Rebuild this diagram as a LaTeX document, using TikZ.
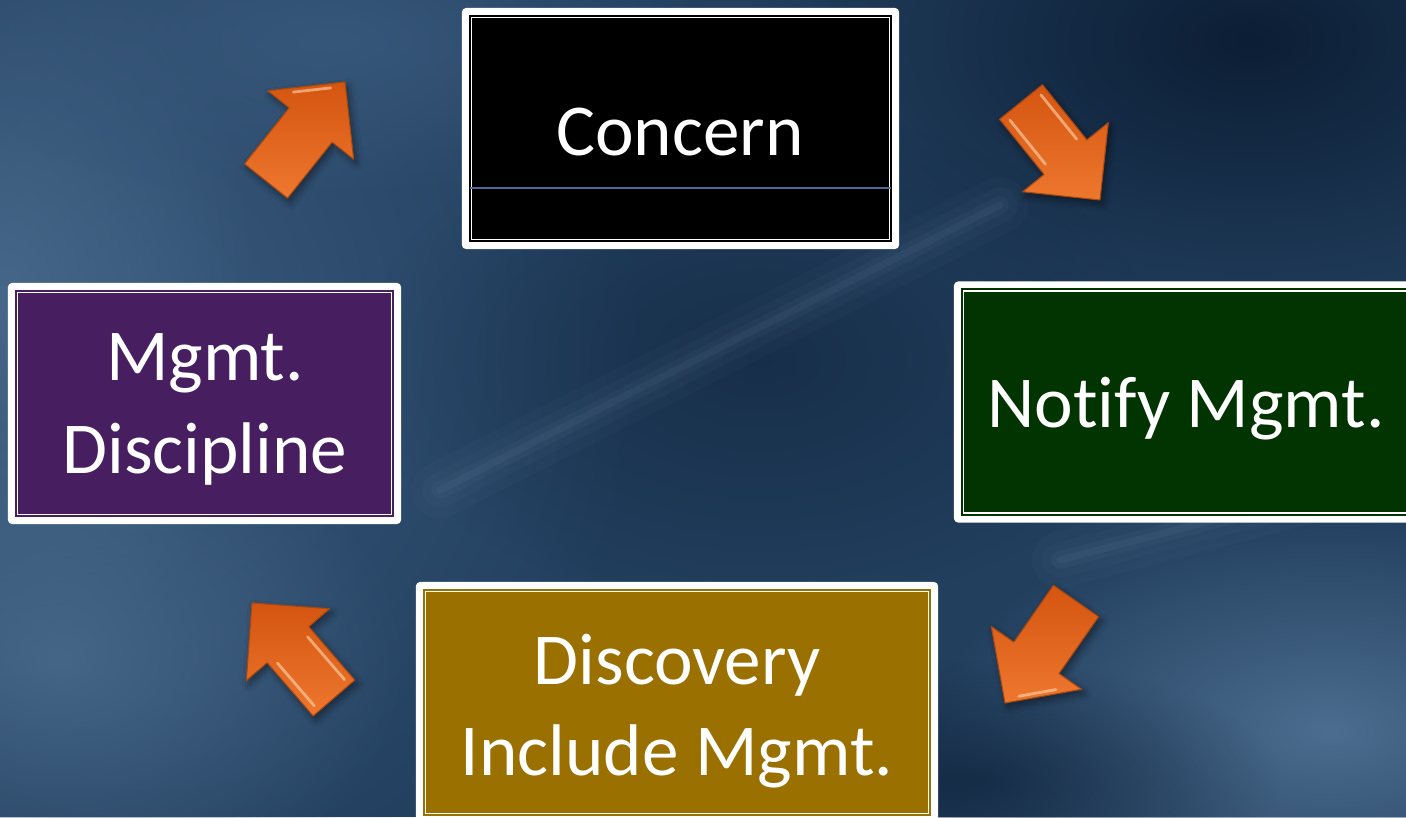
\documentclass[tikz,border=0pt]{standalone}
\usepackage{fontspec}
\setmainfont{Carlito}[Ligatures={NoCommon}]
\usetikzlibrary{calc,fadings,shadows.blur}

\tikzfading[name=softspot, inner color=transparent!0, outer color=transparent!100]

\definecolor{bgbase}{HTML}{223F5E}
\definecolor{bglight}{HTML}{4C6D8F}
\definecolor{bgmid}{HTML}{37577A}
\definecolor{bgdark}{HTML}{0C1E35}
\definecolor{streak}{HTML}{7F9BB8}
\definecolor{concernfill}{HTML}{000000}
\definecolor{notifyfill}{HTML}{013400}
\definecolor{disciplinefill}{HTML}{471F60}
\definecolor{discoveryfill}{HTML}{9A7100}
\definecolor{rule}{HTML}{4A6C9C}
\definecolor{orangedark}{HTML}{D45510}
\definecolor{orangelight}{HTML}{EE772E}
\definecolor{orangeedge}{HTML}{A8480E}
\definecolor{orangeglow}{HTML}{FFD8B0}

% block arrow from tail coordinate #2 to tip coordinate #3
\newcommand\blockarrow[3][]{%
  \coordinate (#2-h) at ($(#3)!0.55cm!(#2)$);
  \coordinate (#2-s1) at ($(#2)!0.275cm!90:(#3)$);
  \coordinate (#2-s2) at ($(#2)!0.275cm!-90:(#3)$);
  \coordinate (#2-n1) at ($(#2-h)!0.275cm!90:(#3)$);
  \coordinate (#2-n2) at ($(#2-h)!0.275cm!-90:(#3)$);
  \coordinate (#2-b1) at ($(#2-h)!0.55cm!90:(#3)$);
  \coordinate (#2-b2) at ($(#2-h)!0.55cm!-90:(#3)$);
  \path[arrowbody,#1] (#2-s1) -- (#2-n1) -- (#2-b1) -- (#3) -- (#2-b2) -- (#2-n2) -- (#2-s2) -- cycle;
}

% soft light streak between two named coordinates
\newcommand\softstreak[2]{%
  \foreach \w/\o in {16/0.035,10/0.045,5/0.06,2/0.08}{
    \draw[streak, line width=\w pt, opacity=\o, line cap=round] (#1) -- (#2);
  }%
}

\begin{document}
\begin{tikzpicture}[x=0.01cm,y=-0.01cm,
  outerbox/.style={fill=white, rounded corners=1.2pt, inner sep=0pt, outer sep=0pt,
    minimum height=2.41cm},
  lbl/.style={text=white, font=\fontsize{20.8}{25}\selectfont, inner sep=0pt, anchor=base},
  arrowbody/.style={top color=orangedark, bottom color=orangelight, draw=orangeedge,
    line width=0.3pt, line join=round,
    blur shadow={shadow xshift=0.8pt, shadow yshift=-1.2pt, shadow opacity=45, shadow blur steps=8}},
  glow/.style={draw=orangeglow, line width=0.8pt, line cap=round, opacity=0.6},
  innerline/.style={draw=white, line width=0.42pt}
]
\useasboundingbox (0,0) rectangle (1406,817);
\clip (0,0) rectangle (1406,817);

% sky-like background
\fill[bgbase] (0,0) rectangle (1406,817);
\fill[bgmid, path fading=softspot] (150,330) ellipse [x radius=5cm, y radius=6cm];
\fill[bglight, path fading=softspot, opacity=0.8] (0,300) ellipse [x radius=2.6cm, y radius=4cm];
\fill[bglight, path fading=softspot, opacity=0.8] (60,660) ellipse [x radius=3.5cm, y radius=2.5cm];
\fill[bglight, path fading=softspot] (1330,730) ellipse [x radius=4cm, y radius=2.2cm];
\fill[bgmid, path fading=softspot] (330,40) ellipse [x radius=4cm, y radius=1.6cm];
\fill[bgdark, path fading=softspot] (1250,40) ellipse [x radius=5cm, y radius=3cm];
\fill[bgdark, path fading=softspot, opacity=0.5] (760,360) ellipse [x radius=4cm, y radius=2.5cm];
\fill[bgdark, path fading=softspot, opacity=0.6] (980,780) ellipse [x radius=3cm, y radius=1.2cm];
\coordinate (streakA1) at (440,490);
\coordinate (streakA2) at (1000,205);
\coordinate (streakB1) at (1060,560);
\coordinate (streakB2) at (1406,470);
\softstreak{streakA1}{streakA2}
\softstreak{streakB1}{streakB2}

% Concern
\node[outerbox, minimum width=4.37cm] (concern) at (680.5,128.5) {};
\fill[concernfill] ($(concern.north west)+(7,7)$) rectangle ($(concern.south east)+(-7,-7)$);
\draw[innerline] ($(concern.north west)+(9.5,9.5)$) rectangle ($(concern.south east)+(-9.5,-9.5)$);
\coordinate (ruleL) at ($(concern.west)+(8,59.5)$);
\coordinate (ruleR) at ($(concern.east)+(-8,59.5)$);
\draw[rule, line width=0.3pt] (ruleL) -- (ruleR);
\node[lbl] (concernText) at (680,155) {Concern};

% Mgmt. Discipline
\node[outerbox, minimum width=3.93cm] (discipline) at (204.5,403.5) {};
\fill[disciplinefill] ($(discipline.north west)+(7,7)$) rectangle ($(discipline.south east)+(-7,-7)$);
\draw[innerline] ($(discipline.north west)+(9.5,9.5)$) rectangle ($(discipline.south east)+(-9.5,-9.5)$);
\node[lbl] (disciplineA) at (205,380) {Mgmt.};
\node[lbl] (disciplineB) at (205,473) {Discipline};

% Notify Mgmt.
\node[outerbox, minimum width=4.64cm] (notify) at (1186,402) {};
\fill[notifyfill] ($(notify.north west)+(7,7)$) rectangle ($(notify.south east)+(-7,-7)$);
\draw[innerline] ($(notify.north west)+(9.5,9.5)$) rectangle ($(notify.south east)+(-9.5,-9.5)$);
\node[lbl] (notifyText) at (1186,427) {Notify Mgmt.};

% Discovery / Include Mgmt.
\node[outerbox, minimum width=5.22cm] (discovery) at (677,702.5) {};
\fill[discoveryfill] ($(discovery.north west)+(7,7)$) rectangle ($(discovery.south east)+(-7,-7)$);
\draw[innerline] ($(discovery.north west)+(9.5,9.5)$) rectangle ($(discovery.south east)+(-9.5,-9.5)$);
\node[lbl] (discoveryA) at (677,684) {Discovery};
\node[lbl] (discoveryB) at (677,775) {Include Mgmt.};

% cycle arrows
\coordinate (a1) at (266,181);  \coordinate (a1tip) at (345,82);
\coordinate (a2) at (1021,102); \coordinate (a2tip) at (1100,200);
\coordinate (a3) at (1076,601); \coordinate (a3tip) at (1005,703);
\coordinate (a4) at (334,698);  \coordinate (a4tip) at (252,603);

\blockarrow{a1}{a1tip}
\blockarrow{a2}{a2tip}
\blockarrow{a3}{a3tip}
\blockarrow{a4}{a4tip}

% bevel highlights
\draw[glow, shorten <=6pt, shorten >=3pt] ($(a1-b1)!0.06cm!(a1-h)$) -- ($(a1tip)!0.06cm!(a1-h)$);
\draw[glow, shorten <=3pt, shorten >=6pt] ($(a3tip)!0.06cm!(a3-h)$) -- ($(a3-b1)!0.06cm!(a3-h)$);
\draw[glow, shorten <=2pt, shorten >=2pt] ($(a2)!0.2cm!90:(a2tip)$) -- ($(a2-h)!0.2cm!90:(a2tip)$);
\draw[glow, shorten <=2pt, shorten >=2pt] ($(a2)!0.2cm!-90:(a2tip)$) -- ($(a2-h)!0.2cm!-90:(a2tip)$);
\draw[glow, shorten <=2pt, shorten >=2pt] ($(a4)!0.2cm!90:(a4tip)$) -- ($(a4-h)!0.2cm!90:(a4tip)$);
\draw[glow, shorten <=2pt, shorten >=2pt] ($(a4)!0.2cm!-90:(a4tip)$) -- ($(a4-h)!0.2cm!-90:(a4tip)$);
\end{tikzpicture}
\end{document}
